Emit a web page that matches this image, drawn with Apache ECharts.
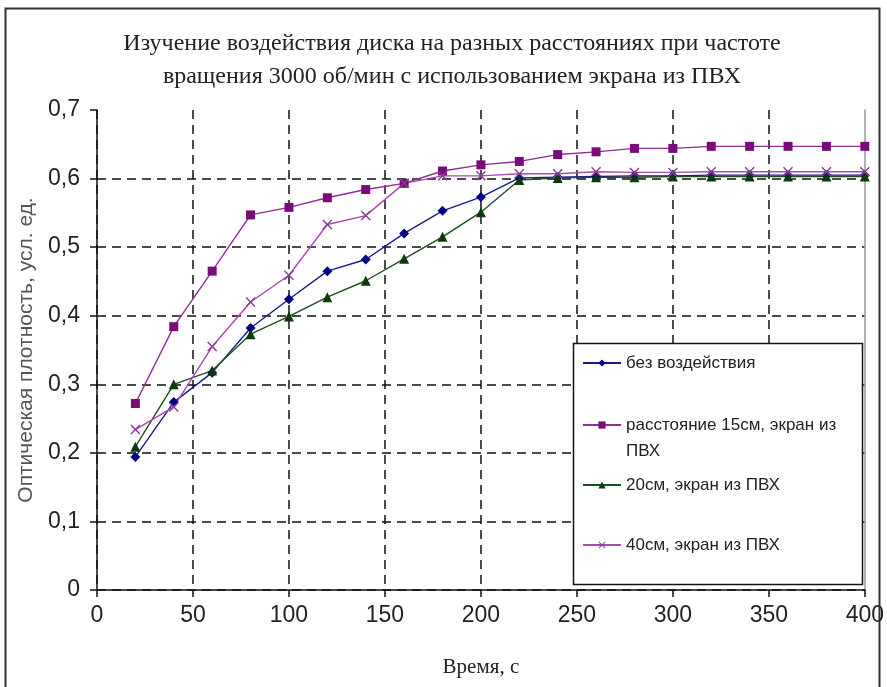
<!DOCTYPE html>
<html>
<head>
<meta charset="utf-8">
<script src="https://cdn.jsdelivr.net/npm/echarts@6/dist/echarts.min.js"></script>
<style>
html,body{margin:0;padding:0;background:#fff;}
#c{width:887px;height:687px;}
</style>
</head>
<body>
<div id="c"></div>
<script>
const titleText = 'Изучение воздействия диска на разных расстояниях при частоте\nвращения 3000 об/мин с использованием экрана из ПВХ';
const xName = 'Время, с';
const yName = 'Оптическая плотность, усл. ед.';
const times = [20,40,60,80,100,120,140,160,180,200,220,240,260,280,300,320,340,360,380,400];
const names = ['без воздействия','расстояние 15см, экран из ПВХ','20см, экран из ПВХ','40см, экран из ПВХ'];
const s1 = [0.194,0.274,0.317,0.382,0.424,0.465,0.482,0.520,0.553,0.573,0.601,0.602,0.603,0.604,0.604,0.605,0.605,0.605,0.605,0.605];
const s2 = [0.272,0.384,0.465,0.547,0.558,0.572,0.584,0.593,0.611,0.620,0.625,0.635,0.639,0.644,0.644,0.647,0.647,0.647,0.647,0.647];
const s3 = [0.209,0.300,0.320,0.373,0.399,0.427,0.451,0.483,0.515,0.551,0.598,0.601,0.602,0.602,0.603,0.603,0.603,0.603,0.603,0.603];
const s4 = [0.234,0.267,0.355,0.420,0.459,0.533,0.546,0.593,0.604,0.604,0.607,0.607,0.610,0.609,0.609,0.610,0.610,0.610,0.610,0.610];
const xTicks = [0,50,100,150,200,250,300,350,400];
const yTicks = [0,0.1,0.2,0.3,0.4,0.5,0.6,0.7];

const pair = arr => times.map((t,i)=>[t,arr[i]]);
const xPath = 'path://M0,1L1,0L5,4L9,0L10,1L6,5L10,9L9,10L5,6L1,10L0,9L4,5Z';

const chart = echarts.init(document.getElementById('c'));
const dash = [9,6];
const yGridColors = yTicks.map((v,i)=> i===yTicks.length-1 ? 'rgba(0,0,0,0)' : '#111');
const xGridColors = xTicks.map((v,i)=> i===xTicks.length-1 ? 'rgba(0,0,0,0)' : '#111');

function mkSeries(name, data, lineColor, markColor, symbol, size){
  return {
    name, type:'line', data: pair(data), symbol, symbolSize:size,
    lineStyle:{color:lineColor,width:1.4},
    itemStyle:{color:markColor},
    emphasis:{disabled:true}, animation:false
  };
}
const legendBase = {
  left:582, orient:'vertical', padding:0, itemWidth:38, itemHeight:9, itemGap:0,
  textStyle:{fontFamily:'Liberation Sans, Arial, sans-serif', fontSize:17, color:'#222', lineHeight:26},
  selectedMode:false
};

chart.setOption({
  animation:false,
  backgroundColor:'#fff',
  title:{
    text:titleText, left:447, top:22, textAlign:'center',
    textStyle:{fontFamily:'Liberation Serif, Times New Roman, serif', fontWeight:'normal', fontSize:24, lineHeight:33, color:'#222'}
  },
  grid:{left:97, top:110, width:768, height:480},
  xAxis:{
    type:'value', min:0, max:400, interval:50,
    name:xName, nameLocation:'middle', nameGap:67,
    nameTextStyle:{fontFamily:'Liberation Serif, Times New Roman, serif', fontSize:21, color:'#222'},
    axisLine:{lineStyle:{color:'#111',width:1.5}},
    axisTick:{show:true,length:7,lineStyle:{color:'#111',width:1.5}},
    axisLabel:{margin:14, fontFamily:'Liberation Sans, Arial, sans-serif', fontSize:23, color:'#222'},
    splitLine:{show:true,lineStyle:{color:xGridColors,type:dash,width:1.5}}
  },
  yAxis:[{
    type:'value', min:0, max:0.7, interval:0.1,
    name:yName, nameLocation:'middle', nameGap:60,
    nameTextStyle:{fontFamily:'Liberation Sans, Arial, sans-serif', fontSize:21, color:'#555'},
    axisLine:{show:true,lineStyle:{color:'#111',width:1.5}},
    axisTick:{show:true,length:7,lineStyle:{color:'#111',width:1.5}},
    axisLabel:{margin:17, fontFamily:'Liberation Sans, Arial, sans-serif', fontSize:23, color:'#222',
      formatter:v=>String(Math.round(v*10)/10).replace('.',',')},
    splitLine:{show:true,lineStyle:{color:yGridColors,type:dash,width:1.5}}
  },{
    type:'value', min:0, max:0.7, interval:0.1, position:'right',
    axisLine:{show:true,lineStyle:{color:'#999',width:1.5}},
    axisTick:{show:false}, axisLabel:{show:false}, splitLine:{show:false}
  }],
  legend:[
    Object.assign({}, legendBase, {top:350, data:[names[0]]}),
    Object.assign({}, legendBase, {top:386, data:[names[1]],
      formatter:n=>'\u00a0\n' + n.replace(' ПВХ','\nПВХ')}),
    Object.assign({}, legendBase, {top:472, data:[names[2]]}),
    Object.assign({}, legendBase, {top:532, data:[names[3]]})
  ],
  graphic:[
    {type:'rect', z:3, shape:{x:573.5,y:343.5,width:289,height:241}, style:{fill:'#fff',stroke:'#111',lineWidth:1.5}},
    {type:'rect', z:10, shape:{x:5.5,y:8.5,width:874,height:720}, style:{fill:'none',stroke:'#333',lineWidth:2}}
  ],
  series:[
    mkSeries(names[0], s1, '#1a1a8c', '#000080', 'diamond', 10),
    mkSeries(names[1], s2, '#952b95', '#7a0a7a', 'rect', 9),
    mkSeries(names[2], s3, '#1f4f1f', '#0a3a0a', 'triangle', 10),
    mkSeries(names[3], s4, '#a84ab0', '#8a3a9a', xPath, 10)
  ]
});
</script>
</body>
</html>
